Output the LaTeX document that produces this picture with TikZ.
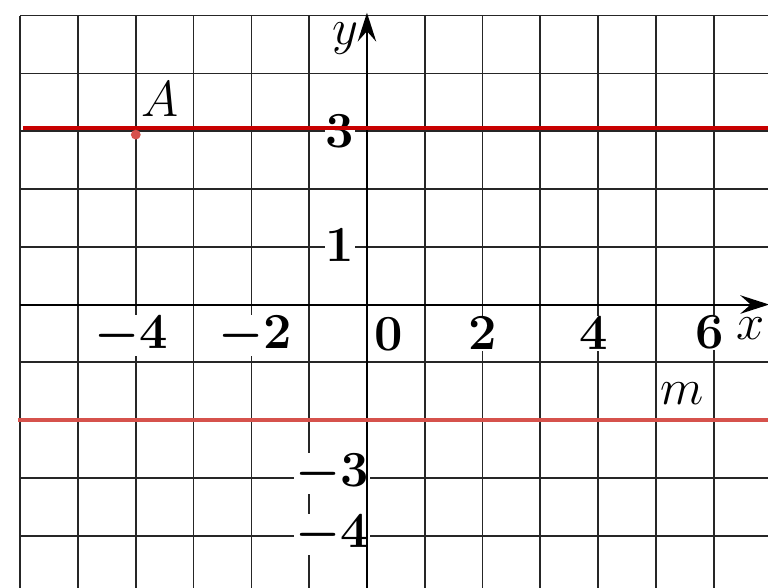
\documentclass[tikz,border=0pt]{standalone}
\usetikzlibrary{arrows.meta}
\definecolor{darkline}{RGB}{200,0,0}
\definecolor{mline}{RGB}{214,82,76}
\begin{document}
\begin{tikzpicture}[x=1cm, y=1cm]
	\tikzset{grid lines/.style={black!85, line width=0.85pt},
		axis lines/.style={black, line width=1pt, -{Stealth[length=5mm, width=3.2mm, inset=1.8mm]}},
		num/.style={fill=white, inner sep=0.5pt, font=\fontsize{25}{29}\selectfont\bfseries\boldmath},
		letter/.style={inner sep=1pt, font=\fontsize{26}{30}\selectfont},
		red lines/.style={line width=1.9pt}}
	\useasboundingbox (-6.35,-4.9) rectangle (6.94,5.27);
	\clip (-6.35,-4.9) rectangle (6.94,5.27);
	% squared paper
	\draw [grid lines] (-6,-5.5) grid (7.5,5);
	% axis numbers
	\node [num] (xm4) at (-4.08,-0.54) {$-4$};
	\node [num] (xm2) at (-1.94,-0.54) {$-2$};
	\node [num] (x0) at (0.38,-0.52) {$0$};
	\node [num] (x2) at (2.0,-0.5) {$2$};
	\node [num] (x4) at (3.92,-0.5) {$4$};
	\node [num] (x6) at (5.93,-0.48) {$6$};
	\node [num] (y3) at (-0.47,3.0) {$3$};
	\node [num] (y1) at (-0.47,1.02) {$1$};
	\node [num] (ym3) at (-0.6,-2.92) {$-3$};
	\node [num] (ym4) at (-0.6,-3.98) {$-4$};
	% axes
	\coordinate (xstart) at (-6,0);
	\coordinate (xend) at (6.96,0);
	\coordinate (ystart) at (0,-5.5);
	\coordinate (yend) at (0,5.05);
	\draw [axis lines] (xstart) -- (xend);
	\draw [axis lines] (ystart) -- (yend);
	\node [letter] (xlab) at (6.64,-0.42) {$x$};
	\node [letter] (ylab) at (-0.38,4.6) {$y$};
	% the two lines
	\coordinate (a1) at (-5.95,3.05);
	\coordinate (a2) at (7.2,3.05);
	\coordinate (m1) at (-6.04,-2.0);
	\coordinate (m2) at (7.2,-2.0);
	\draw [red lines, darkline] (a1) -- (a2);
	\draw [red lines, mline] (m1) -- (m2);
	\node [letter] (mlab) at (5.45,-1.55) {$m$};
	% point A
	\fill [mline] (-4,2.94) circle (0.085);
	\node [letter] (Alab) at (-3.58,3.55) {$A$};
\end{tikzpicture}
\end{document}
